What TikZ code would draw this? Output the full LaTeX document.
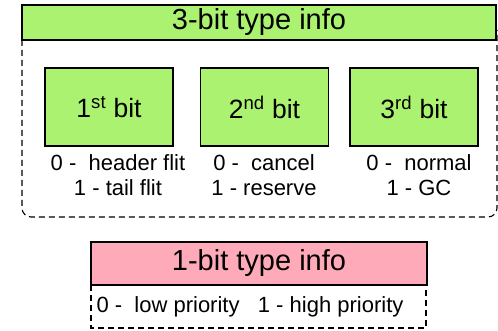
\documentclass[tikz,border=0pt]{standalone}
\usepackage{fontspec}
\setmainfont{Liberation Sans}
\definecolor{bitgreen}{RGB}{170,242,112}
\definecolor{bitpink}{RGB}{255,170,184}
\tikzset{
  bitbox/.style={draw, line width=1.2pt, fill=bitgreen, minimum width=128pt, minimum height=78pt, inner sep=0pt, font=\fontsize{26.5}{30}\selectfont},
  bitnote/.style={align=center, font=\fontsize{22}{25}\selectfont, inner sep=0pt},
  frame/.style={line width=1.1pt, dash pattern=on 6pt off 4pt}
}

\begin{document}
\begin{tikzpicture}[x=1pt,y=-1pt]
            \useasboundingbox (0,0) rectangle (498,331);
            \draw[frame, rounded corners=9pt] (22,30)--(22,217)--(497,217)--(497,30);
            \node [draw, line width=1.2pt, fill=bitgreen, minimum width=474pt, minimum height=35pt, inner sep=0pt, font=\fontsize{29}{32}\selectfont] (threebit) at (259,22.5) {3-bit type info};

            \node [bitbox] (first) at (109,107) {1\textsuperscript{st} bit};
            \node [bitbox] (second) at (264.5,107) {2\textsuperscript{nd} bit};
            \node [bitbox] (third) at (414,107) {3\textsuperscript{rd} bit};

            \node [bitnote] (firstnote) at (118,175.5) {0 -\ \ header flit\\1 - tail flit};
            \node [bitnote] (secondnote) at (264,175.5) {0 -\ \ cancel\\1 - reserve};
            \node [bitnote] (thirdnote) at (419,175.5) {0 -\ \ normal\\1 - GC};

            \draw[frame] (91,285)--(91,328)--(426,328)--(426,285);
            \node [draw, line width=1.2pt, fill=bitpink, minimum width=336pt, minimum height=43pt, inner sep=0pt, font=\fontsize{29}{32}\selectfont] (onebit) at (259,263.5) {1-bit type info};
            \node [bitnote] (onenote) at (250,307) {0 -\ \ low priority\ \ \ 1 - high priority};
\end{tikzpicture}
\end{document}
